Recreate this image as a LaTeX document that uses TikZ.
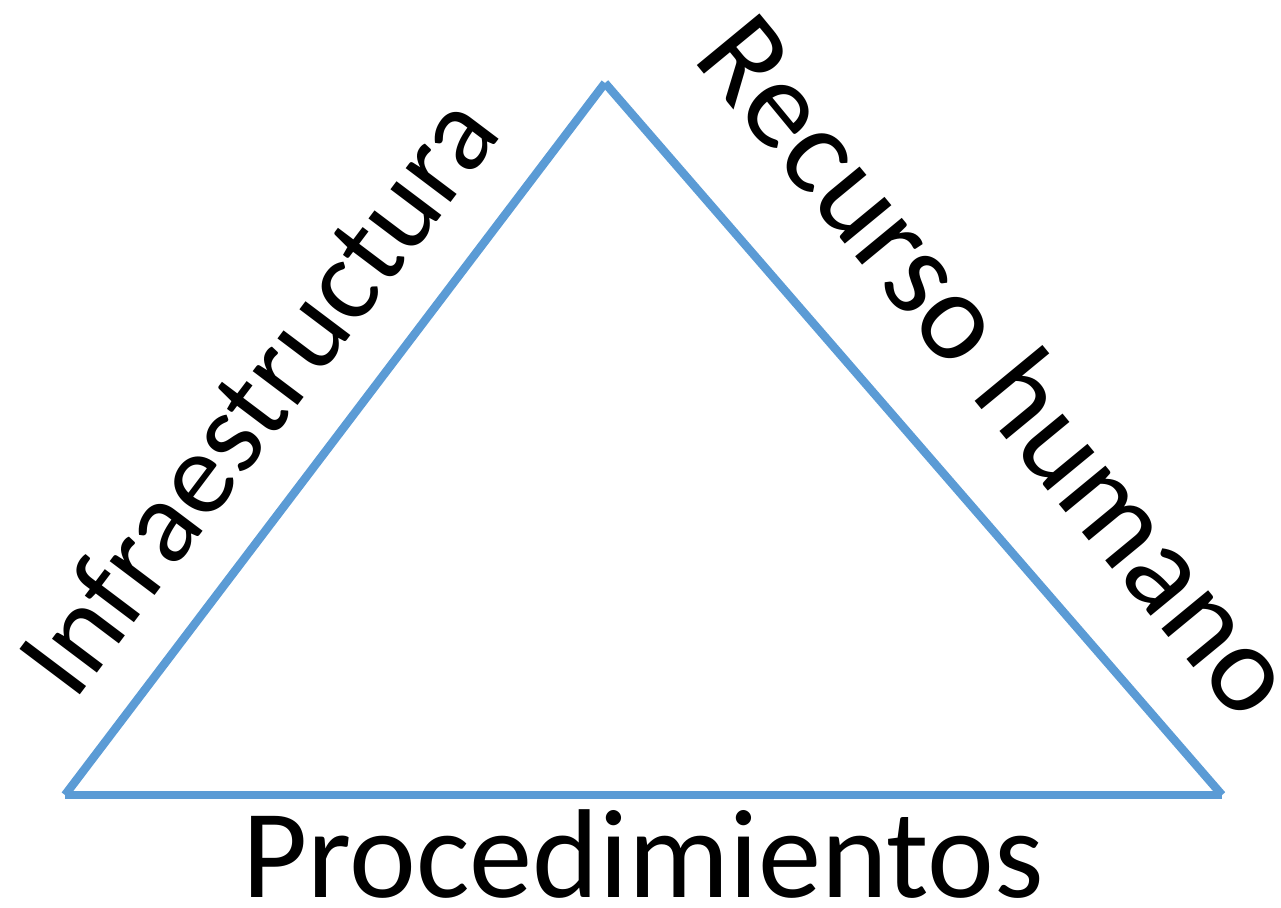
\documentclass[tikz,border=0pt]{standalone}
\usepackage{fontspec}
\setmainfont{Carlito}
\usetikzlibrary{positioning}
\definecolor{sideblue}{HTML}{5B9BD5}
\tikzstyle{side} = [draw=sideblue, line width=4.8pt]
\tikzstyle{lbl} = [inner sep=0mm, font=\fontsize{72}{76}\selectfont]

\begin{document}
\begin{tikzpicture}[x=0.02cm, y=-0.02cm]
    %\draw[help lines] (0, 0) grid[step=100] (1281, 908);
    \useasboundingbox (0, 0) rectangle (1281, 908);
    \coordinate (bl) at (65, 795);
    \coordinate (top) at (605, 83);
    \coordinate (br) at (1222, 795);

    \draw[side] (bl) -- (top);
    \draw[side] (top) -- (br);
    \draw[side] (bl) -- (br);

    \node[lbl, font=\fontsize{67}{70}\selectfont, rotate=53] (infra) at (257, 394) {Infraestructura};
    \node[lbl, rotate=-50.5] (rh) at (1000, 364) {Recurso humano};
    \node[lbl, anchor=base] (proc) at (643, 897) {Procedimientos};
\end{tikzpicture}
\end{document}
